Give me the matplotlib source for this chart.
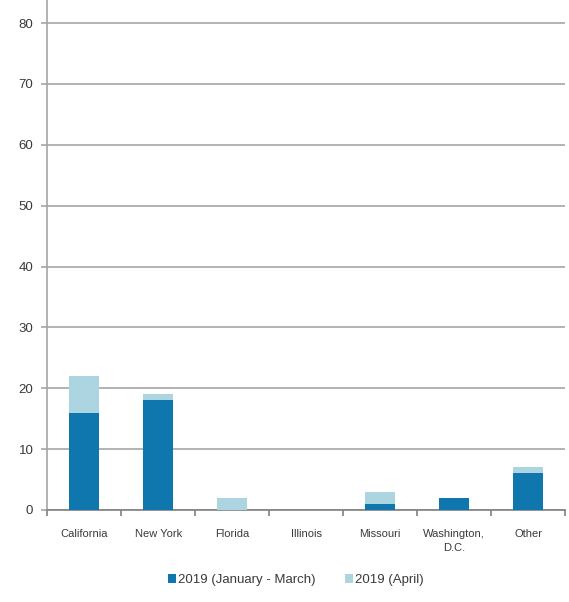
import numpy as np
import matplotlib.pyplot as plt

plt.rcParams['font.family'] = ['Liberation Sans', 'DejaVu Sans']

# ----------------------------
# Data
# ----------------------------
states = ['California', 'New York', 'Florida', 'Illinois', 'Missouri', 'Washington,\nD.C.', 'Other']
jan_mar = [16, 18, 0, 0, 1, 2, 6]
april = [6, 1, 2, 0, 2, 0, 1]
series_names = ['2019 (January - March)', '2019 (April)']
yticks = [0, 10, 20, 30, 40, 50, 60, 70, 80]

DARK = '#0f76ae'
LIGHT = '#acd4e1'
GRID = '#a6a6a6'
TEXT = '#3a3a3a'

fig = plt.figure(figsize=(5.69, 6.02), dpi=100)
ax = fig.add_axes([0.083, 0.153, 0.910, 0.847])

x = np.arange(len(states))
ax.bar(x, jan_mar, width=0.41, color=DARK, label=series_names[0], zorder=3)
ax.bar(x, april, width=0.41, bottom=jan_mar, color=LIGHT, label=series_names[1], zorder=3)

ax.set_xlim(-0.5, len(states) - 0.5)
ax.set_ylim(0, 83.8)
ax.set_yticks(yticks)
ax.yaxis.grid(True, color=GRID, linewidth=1.2, zorder=0)

# category labels centred, tick marks between categories
ax.set_xticks(x)
ax.set_xticklabels(states, fontsize=8, color=TEXT, linespacing=1.5)
ax.tick_params(axis='x', length=0, pad=14)
ax.set_xticks(np.arange(-0.5, len(states)), minor=True)
ax.tick_params(axis='x', which='minor', length=4, color='#808080', width=1.2)
ax.tick_params(axis='y', length=4, color=GRID, width=1.2, labelsize=9.5, labelcolor=TEXT, pad=6)

for s in ['top', 'right']:
    ax.spines[s].set_visible(False)
ax.spines['left'].set_color(GRID)
ax.spines['left'].set_linewidth(1.2)
ax.spines['bottom'].set_color('#808080')
ax.spines['bottom'].set_linewidth(1.2)

leg = fig.legend(loc='center', bbox_to_anchor=(0.52, 0.036), ncol=2, frameon=False,
                 fontsize=9.5, handlelength=0.6, handleheight=0.6, handletextpad=0.15,
                 columnspacing=2.2)
for t in leg.get_texts():
    t.set_color(TEXT)

plt.savefig('out.png', dpi=100)
